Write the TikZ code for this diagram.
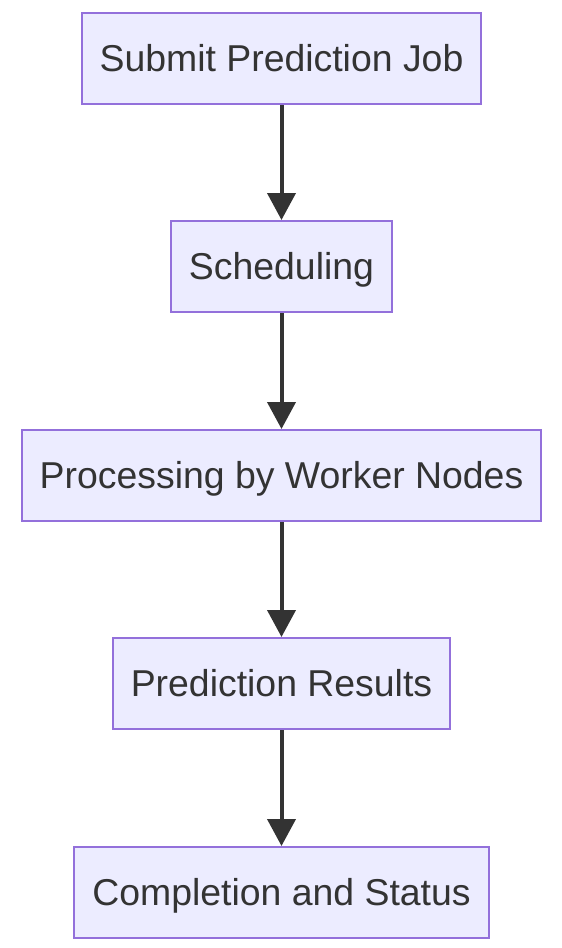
\documentclass[tikz,border=0pt]{standalone}
\usepackage{fontspec}
\setmainfont{Liberation Sans}
\usepackage{tikz}
\usetikzlibrary{arrows.meta}
\definecolor{boxfill}{HTML}{ECECFF}
\definecolor{boxline}{HTML}{9370DB}
\definecolor{ink}{HTML}{333333}

\begin{document}
\begin{tikzpicture}
    [x=1pt,y=-1pt, every node/.style={rectangle,draw=boxline,fill=boxfill,line width=2pt,
      text=ink,font=\fontsize{37.4}{40}\selectfont,minimum height=91pt,inner xsep=18pt,
      text height=28pt,text depth=2pt},
     flow/.style={draw=ink,line width=4pt,-{Triangle[width=28pt,length=27pt]}}]
    \useasboundingbox (0,0) rectangle (562,948);
    \node (submit) at (281.5, 58.5) {Submit Prediction Job};
    \node (sched) at (281.5, 266.5) {Scheduling};
    \node (proc) at (281.5, 475.5) {Processing by Worker Nodes};
    \node (results) at (281.5, 683.5) {Prediction Results};
    \node (status) at (281.5, 892.5) {Completion and Status};
    \draw[flow] (submit) -- (sched);
    \draw[flow] (sched) -- (proc);
    \draw[flow] (proc) -- (results);
    \draw[flow] (results) -- (status);
  \end{tikzpicture}
\end{document}
